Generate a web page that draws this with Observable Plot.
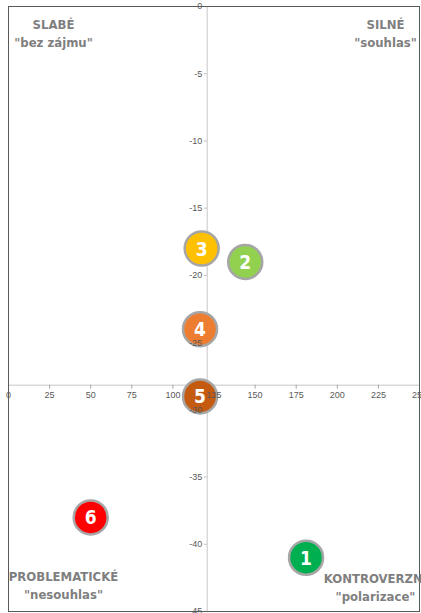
<!DOCTYPE html>
<html>
<head>
<meta charset="utf-8">
<script src="https://cdn.jsdelivr.net/npm/d3@7"></script>
<script src="https://cdn.jsdelivr.net/npm/@observablehq/plot@0.6"></script>
<style>
  html, body { margin: 0; padding: 0; background: #fff; }
  #chart { width: 421px; height: 613px; overflow: hidden; }
  g[aria-label="quadrant"] text { letter-spacing: -0.9px; }
  g[aria-label="point-number"] text { letter-spacing: -0.5px; }
</style>
</head>
<body>
<div id="chart"></div>
<script>
// Data
const ids = [1, 2, 3, 4, 5, 6];
const xValues = [181, 144, 117.5, 116.5, 116.5, 50];
const yValues = [-41, -19, -18, -24, -29, -38];
const pointColors = ["#00b050", "#92d050", "#ffc000", "#ed7d31", "#c55a11", "#ff0000"];

const xTicks = [0, 25, 50, 75, 100, 125, 150, 175, 200, 225, 250];
const yTicks = [0, -5, -10, -15, -20, -25, -30, -35, -40, -45];

const quadrantLabels = [
  {text: "SLABÉ\n\"bez zájmu\"", anchor: "top-left", dx: 45, dy: 26},
  {text: "SILNÉ\n\"souhlas\"", anchor: "top-right", dx: -34, dy: 26},
  {text: "PROBLEMATICKÉ\n\"nesouhlas\"", anchor: "bottom-left", dx: 55, dy: -27},
  {text: "KONTROVERZNÍ\n\"polarizace\"", anchor: "bottom-right", dx: -44, dy: -25}
];

const points = ids.map((id, i) => ({id, x: xValues[i], y: yValues[i], color: pointColors[i]}));
const xCross = d3.mean(xValues);
const yCross = d3.mean(yValues);

const condensed = "'Liberation Sans Narrow', 'DejaVu Sans Condensed', 'Roboto Condensed', sans-serif";

const marks = [
  Plot.ruleX([xCross], {stroke: "#d9d9d9", strokeWidth: 1.5}),
  Plot.ruleY([yCross], {stroke: "#d9d9d9", strokeWidth: 1.5}),
  Plot.ruleX(xTicks, {x: d => d, y1: yCross, y2: yCross, insetTop: 0, insetBottom: -4, stroke: "#a6a6a6"}),
  Plot.ruleY(yTicks, {y: d => d, x1: xCross, x2: xCross, insetLeft: -3, insetRight: 0, stroke: "#bfbfbf"}),
  Plot.frame({stroke: "#595959"}),
  ...quadrantLabels.map(q => Plot.text([q], {
    text: "text", frameAnchor: q.anchor, dx: q.dx, dy: q.dy,
    textAnchor: "middle", lineAnchor: "middle", lineHeight: 1.4,
    fontSize: 13, fontWeight: "bold", fill: "#7f7f7f", fontFamily: condensed,
    ariaLabel: "quadrant"
  })),
  Plot.dot(points, {x: "x", y: "y", r: 17, fill: "color", stroke: "#a6a6a6", strokeWidth: 2.5}),
  Plot.text(points, {x: "x", y: "y", text: d => String(d.id), fill: "white", fontSize: 19, fontWeight: "bold", fontFamily: condensed, dy: 1, ariaLabel: "point-number"}),
  Plot.text(xTicks, {x: d => d, y: yCross, dy: 10, text: d => String(d), fontSize: 9, fill: "#595959", fontFamily: "'Liberation Sans', sans-serif"}),
  Plot.text(yTicks, {x: xCross, y: d => d, dx: -5, textAnchor: "end", text: d => String(d), fontSize: 9, fill: "#595959", fontFamily: "'Liberation Sans', sans-serif"})
];

const chart = Plot.plot({
  width: 421,
  height: 613,
  marginTop: 6,
  marginLeft: 8,
  marginRight: 2,
  marginBottom: 2,
  x: {domain: [0, 250], axis: null},
  y: {domain: [-45, 0], axis: null},
  style: {background: "#fff"},
  marks
});
document.getElementById("chart").appendChild(chart);
</script>
</body>
</html>
